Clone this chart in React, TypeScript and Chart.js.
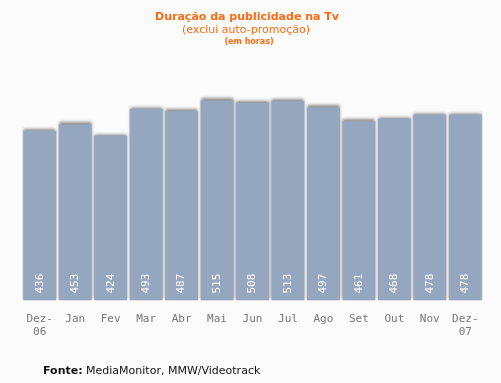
import React, { useEffect, useRef } from "react";
import { Chart, registerables } from "chart.js";

Chart.register(...registerables);

const categories: (string | string[])[] = [
  ["Dez-", "06"], "Jan", "Fev", "Mar", "Abr", "Mai", "Jun", "Jul", "Ago", "Set", "Out", "Nov", ["Dez-", "07"],
];
const hours = [436, 453, 424, 493, 487, 515, 508, 513, 497, 461, 468, 478, 478];

const titleText = "Duração da publicidade na Tv";
const subtitleText = "(exclui auto-promoção)";
const unitText = "(em horas)";
const sourceLabel = "Fonte:";
const sourceText = " MediaMonitor, MMW/Videotrack";

const BG = "#fbfbfb";
const ORANGE = "#ff6a13";

const textPlugin = {
  id: "texts",
  beforeDraw(chart: any) {
    const ctx = chart.ctx;
    ctx.save();
    ctx.fillStyle = BG;
    ctx.fillRect(0, 0, chart.width, chart.height);
    ctx.restore();
  },
  beforeDatasetDraw(chart: any) {
    const ctx = chart.ctx;
    ctx.save();
    ctx.shadowColor = "rgba(0,0,0,0.45)";
    ctx.shadowBlur = 3;
    ctx.shadowOffsetX = 0;
    ctx.shadowOffsetY = -2;
  },
  afterDatasetDraw(chart: any) {
    chart.ctx.restore();
  },
  afterDatasetsDraw(chart: any) {
    const ctx = chart.ctx;
    const meta = chart.getDatasetMeta(0);
    meta.data.forEach((bar: any, i: number) => {
      const props = bar.getProps(["x", "base"], true);
      ctx.save();
      ctx.translate(props.x, props.base - 7);
      ctx.rotate(-Math.PI / 2);
      ctx.fillStyle = "#ffffff";
      ctx.font = "11px 'DejaVu Sans Mono'";
      ctx.textAlign = "left";
      ctx.textBaseline = "middle";
      ctx.fillText(String(hours[i]), 0, 0);
      ctx.restore();
    });
  },
  afterDraw(chart: any) {
    const ctx = chart.ctx;
    ctx.save();
    ctx.textAlign = "center";
    ctx.textBaseline = "middle";
    ctx.fillStyle = ORANGE;
    ctx.font = "bold 11px 'DejaVu Sans'";
    ctx.fillText(titleText, 247, 17);
    ctx.font = "11px 'DejaVu Sans'";
    ctx.fillText(subtitleText, 246, 30);
    ctx.font = "bold 8px 'DejaVu Sans'";
    ctx.fillText(unitText, 249, 42);

    ctx.textAlign = "left";
    ctx.fillStyle = "#111";
    ctx.font = "bold 11px 'DejaVu Sans'";
    const x0 = 43;
    ctx.fillText(sourceLabel, x0, 371);
    const w = ctx.measureText(sourceLabel).width;
    ctx.font = "11px 'DejaVu Sans'";
    ctx.fillText(sourceText, x0 + w, 371);
    ctx.restore();
  },
};

export default function App() {
  const ref = useRef<HTMLCanvasElement | null>(null);
  useEffect(() => {
    document.body.style.margin = "0";
    const chart = new Chart(ref.current as HTMLCanvasElement, {
      type: "bar",
      data: {
        labels: categories as any,
        datasets: [
          {
            data: hours,
            backgroundColor: "#94a7bf",
            borderWidth: 0,
            barPercentage: 0.93,
            categoryPercentage: 1,
          },
        ],
      },
      options: {
        animation: false,
        responsive: false,
        maintainAspectRatio: false,
        layout: { padding: { top: 65, left: 22, right: 18, bottom: 32 } },
        plugins: { legend: { display: false }, tooltip: { enabled: false }, title: { display: false } },
        scales: {
          x: {
            grid: { display: false, drawTicks: false },
            border: { display: false },
            ticks: { color: "#777", font: { family: "'DejaVu Sans Mono'", size: 11 }, padding: 12, maxRotation: 0, autoSkip: false },
          },
          y: { display: false, min: 0, max: 606 },
        },
      },
      plugins: [textPlugin],
    });
    return () => chart.destroy();
  }, []);
  return (
    <div style={{ position: "fixed", left: 0, top: 0, width: 501, height: 383 }}>
      <canvas ref={ref} width={501} height={383} />
    </div>
  );
}
